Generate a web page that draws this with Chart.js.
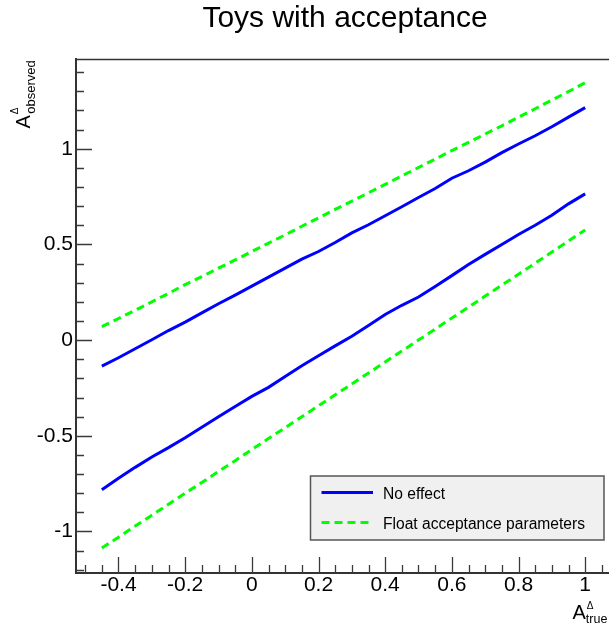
<!DOCTYPE html>
<html>
<head>
<meta charset="utf-8">
<script src="https://cdn.jsdelivr.net/npm/chart.js@4.4.1/dist/chart.umd.min.js"></script>
<style>
  html, body { margin: 0; padding: 0; background: #fff; overflow: hidden; }
  #wrap { width: 609px; height: 623px; overflow: hidden; position: relative; }
  canvas { display: block; }
</style>
</head>
<body>
<div id="wrap"><canvas id="c" width="660" height="623" style="width:660px;height:623px"></canvas></div>
<script>
// True asymmetry values at which the toys were generated
const xTrue = [-0.45, -0.40, -0.35, -0.30, -0.25, -0.20, -0.15, -0.10, -0.05, 0.00,
                0.05,  0.10,  0.15,  0.20,  0.25,  0.30,  0.35,  0.40,  0.45, 0.50,
                0.55,  0.60,  0.65,  0.70,  0.75,  0.80,  0.85,  0.90,  0.95, 1.00];

// "No effect" band: upper and lower edges
const noEffectUpper = [-0.136, -0.092, -0.045, 0.002, 0.050, 0.094, 0.142, 0.190, 0.235, 0.282,
                        0.329, 0.376, 0.423, 0.463, 0.510, 0.560, 0.603, 0.650, 0.697, 0.745,
                        0.792, 0.846, 0.885, 0.930, 0.980, 1.025, 1.068, 1.115, 1.165, 1.215];
const noEffectLower = [-0.782, -0.722, -0.665, -0.611, -0.562, -0.510, -0.455, -0.400, -0.347, -0.294,
                       -0.247, -0.190, -0.134, -0.082, -0.030, 0.020, 0.076, 0.134, 0.182, 0.225,
                        0.280, 0.337, 0.395, 0.448, 0.500, 0.552, 0.600, 0.652, 0.712, 0.764];

// "Float acceptance parameters" band: upper and lower edges
const floatUpper = [0.071, 0.113, 0.156, 0.200, 0.244, 0.290, 0.332, 0.376, 0.419, 0.463,
                    0.507, 0.550, 0.595, 0.638, 0.683, 0.726, 0.770, 0.814, 0.858, 0.902,
                    0.946, 0.990, 1.033, 1.077, 1.120, 1.165, 1.209, 1.254, 1.299, 1.345];
const floatLower = [-1.086, -1.030, -0.972, -0.915, -0.858, -0.800, -0.744, -0.686, -0.630, -0.572,
                    -0.514, -0.458, -0.400, -0.343, -0.286, -0.229, -0.172, -0.114, -0.057, 0.000,
                     0.058, 0.115, 0.172, 0.230, 0.287, 0.344, 0.402, 0.460, 0.518, 0.576];

const seriesLabels = ['No effect', 'Float acceptance parameters'];

const xTickValues = [-0.4, -0.2, 0, 0.2, 0.4, 0.6, 0.8, 1];
const xTickLabels = ['-0.4', '-0.2', '0', '0.2', '0.4', '0.6', '0.8', '1'];
const yTickValues = [-1, -0.5, 0, 0.5, 1];
const yTickLabels = ['-1', '-0.5', '0', '0.5', '1'];

const titleText = 'Toys with acceptance';

const FONT = "'Liberation Sans', Arial, Helvetica, sans-serif";
Chart.defaults.font.family = FONT;

function pairs(ys) { return xTrue.map((x, i) => ({ x: x, y: ys[i] })); }

const BLUE = '#0000ff';
const GREEN = '#00ff00';

const solid = { borderColor: BLUE, borderWidth: 3, pointRadius: 0, tension: 0, fill: false };
const dashed = { borderColor: GREEN, borderWidth: 3, borderDash: [8, 5], pointRadius: 0, tension: 0, fill: false };

// Frame decorations in the style of a ROOT canvas: inward ticks, top edge,
// axis titles with super/subscripts, the title and the boxed legend.
const rootStyle = {
  id: 'rootStyle',
  afterDatasetsDraw(chart) {
    const { ctx, chartArea: a, scales } = chart;
    const xs = scales.x, ys = scales.y;
    ctx.save();

    // top edge of the frame
    ctx.strokeStyle = '#333';
    ctx.lineWidth = 1.5;
    ctx.beginPath();
    ctx.moveTo(a.left, a.top + 0.5);
    ctx.lineTo(a.right, a.top + 0.5);
    ctx.stroke();

    // x ticks (minor every 0.05, major every 0.2), pointing into the frame
    ctx.strokeStyle = '#3a3a3a';
    ctx.lineWidth = 1.3;
    ctx.beginPath();
    for (let i = Math.ceil(xs.min / 0.05 - 1e-9); i <= Math.floor(xs.max / 0.05 + 1e-9); i++) {
      const major = i % 4 === 0;
      const px = Math.round(xs.getPixelForValue(i * 0.05)) + 0.5;
      ctx.moveTo(px, a.bottom);
      ctx.lineTo(px, a.bottom - (major ? 16 : 8));
    }
    // y ticks (minor every 0.1, major every 0.5)
    for (let i = Math.ceil(ys.min / 0.1 - 1e-9); i <= Math.floor(ys.max / 0.1 + 1e-9); i++) {
      const major = i % 5 === 0;
      const py = Math.round(ys.getPixelForValue(i * 0.1)) + 0.5;
      ctx.moveTo(a.left, py);
      ctx.lineTo(a.left + (major ? 16 : 8), py);
    }
    ctx.stroke();

    ctx.fillStyle = '#000';
    ctx.textBaseline = 'alphabetic';

    // title
    ctx.font = '30px ' + FONT;
    ctx.textAlign = 'center';
    ctx.fillText(titleText, 345, 27);

    // x-axis title: A with Delta superscript and "true" subscript
    ctx.textAlign = 'left';
    ctx.font = '20px ' + FONT;
    ctx.fillText('A', 572.5, 619);
    const wA = ctx.measureText('A').width;
    ctx.font = '10px ' + FONT;
    ctx.fillText('\u0394', 572.5 + wA + 1, 608.5);
    ctx.font = '12.5px ' + FONT;
    ctx.fillText('true', 572.5 + wA, 622.5);

    // y-axis title, rotated: A with Delta superscript and "observed" subscript
    ctx.save();
    ctx.translate(29.5, 128.5);
    ctx.rotate(-Math.PI / 2);
    ctx.font = '20px ' + FONT;
    ctx.fillText('A', 0, 0);
    const wAy = ctx.measureText('A').width;
    ctx.font = '10px ' + FONT;
    ctx.fillText('\u0394', wAy + 1, -11.5);
    ctx.font = '13px ' + FONT;
    ctx.fillText('observed', wAy + 1.5, 5.5);
    ctx.restore();

    // legend box
    const box = { x: 310.5, y: 476, w: 293.5, h: 64 };
    ctx.fillStyle = '#f0f0f0';
    ctx.fillRect(box.x, box.y, box.w, box.h);
    ctx.strokeStyle = '#555';
    ctx.lineWidth = 1.5;
    ctx.strokeRect(box.x, box.y, box.w, box.h);

    const seen = new Set();
    let row = 0;
    chart.data.datasets.forEach(ds => {
      if (seen.has(ds.label)) return;
      seen.add(ds.label);
      const cy = 492.5 + row * 30;
      ctx.save();
      ctx.strokeStyle = ds.borderColor;
      ctx.lineWidth = ds.borderWidth;
      ctx.setLineDash(ds.borderDash || []);
      ctx.beginPath();
      ctx.moveTo(321.5, cy);
      ctx.lineTo(373, cy);
      ctx.stroke();
      ctx.restore();
      ctx.fillStyle = '#000';
      ctx.font = '15.6px ' + FONT;
      ctx.textAlign = 'left';
      ctx.fillText(ds.label, 383, cy + 6);
      row++;
    });

    ctx.restore();
  }
};

new Chart(document.getElementById('c'), {
  type: 'line',
  data: {
    datasets: [
      Object.assign({ label: seriesLabels[0], data: pairs(noEffectUpper) }, solid),
      Object.assign({ label: seriesLabels[0], data: pairs(noEffectLower) }, solid),
      Object.assign({ label: seriesLabels[1], data: pairs(floatUpper) }, dashed),
      Object.assign({ label: seriesLabels[1], data: pairs(floatLower) }, dashed)
    ]
  },
  options: {
    responsive: false,
    devicePixelRatio: 1,
    animation: false,
    events: [],
    layout: { padding: { left: 0, top: 59, right: 49, bottom: 0 } },
    plugins: {
      legend: { display: false },
      title: { display: false },
      tooltip: { enabled: false }
    },
    scales: {
      x: {
        type: 'linear',
        position: 'bottom',
        min: -0.5275,
        max: 1.0775,
        afterBuildTicks: s => { s.ticks = xTickValues.map(v => ({ value: v })); },
        afterFit: s => { s.height = 50; },
        grid: { display: true, drawOnChartArea: false, drawTicks: false },
        border: { display: true, color: '#333', width: 2 },
        ticks: {
          color: '#000',
          font: { size: 21 },
          padding: 0,
          maxRotation: 0,
          autoSkip: false,
          callback: (v, i) => xTickLabels[i]
        }
      },
      y: {
        type: 'linear',
        position: 'left',
        min: -1.217,
        max: 1.469,
        afterBuildTicks: s => { s.ticks = yTickValues.map(v => ({ value: v })); },
        afterFit: s => { s.width = 76; },
        grid: { display: true, drawOnChartArea: false, drawTicks: false },
        border: { display: true, color: '#333', width: 2 },
        ticks: {
          color: '#000',
          font: { size: 21 },
          padding: 3,
          autoSkip: false,
          callback: (v, i) => yTickLabels[i]
        }
      }
    }
  },
  plugins: [rootStyle]
});
</script>
</body>
</html>
